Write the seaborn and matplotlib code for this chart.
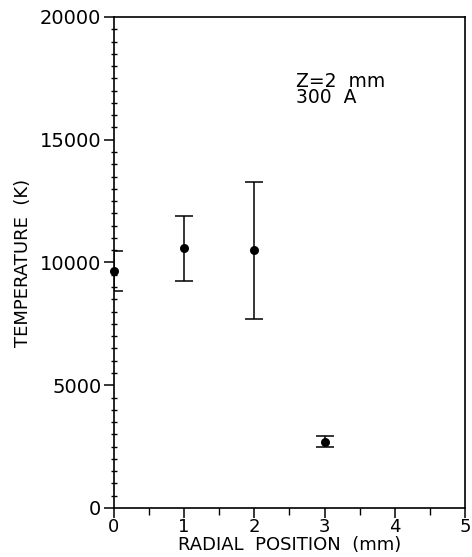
import matplotlib
matplotlib.use("Agg")
import matplotlib.pyplot as plt
from matplotlib.ticker import MultipleLocator
import seaborn as sns
import pandas as pd

# Measured temperatures along the radius
radial_mm = [0, 1, 2, 3]
temperature_k = [9650, 10570, 10490, 2700]
temperature_err = [800, 1340, 2800, 230]

x_ticks = [0, 1, 2, 3, 4, 5]
y_ticks = [0, 5000, 10000, 15000, 20000]

df = pd.DataFrame({"r": radial_mm, "T": temperature_k, "err": temperature_err})

sns.set_style("ticks")
plt.rcParams["font.family"] = ["DejaVu Sans"]
plt.rcParams["text.color"] = "black"
plt.rcParams["axes.labelcolor"] = "black"

fig = plt.figure(figsize=(4.72, 5.57), dpi=100)
ax = fig.add_axes([0.2415, 0.0880, 0.7435, 0.8815])

ax.errorbar(df["r"], df["T"], yerr=df["err"], fmt="none", ecolor="black",
            elinewidth=1.1, capsize=6.5, capthick=1.1, zorder=2)
sns.scatterplot(data=df, x="r", y="T", color="black", s=42, edgecolor="black",
                linewidth=0, ax=ax, zorder=3, clip_on=False)

ax.set_xlim(0, 5)
ax.set_ylim(0, 20000)
ax.set_xticks(x_ticks)
ax.set_yticks(y_ticks)
ax.xaxis.set_minor_locator(MultipleLocator(0.5))
ax.yaxis.set_minor_locator(MultipleLocator(500))

for side in ["left", "right", "top", "bottom"]:
    ax.spines[side].set_visible(True)
    ax.spines[side].set_linewidth(1.2)
    ax.spines[side].set_color("black")

ax.tick_params(axis="both", which="major", direction="out", length=7, width=1.1,
               labelsize=14, colors="black", top=False, right=False, pad=2)
ax.tick_params(axis="x", which="major", pad=0, labelsize=13)
ax.tick_params(axis="y", which="minor", direction="inout", length=5, width=1.0,
               right=False, colors="black")
ax.tick_params(axis="x", which="minor", direction="out", length=5, width=1.0,
               top=False, colors="black")

ax.set_xlabel("RADIAL  POSITION  (mm)", fontsize=13, labelpad=0, color="black")
ax.set_ylabel("TEMPERATURE  (K)", fontsize=13, labelpad=6, color="black")

ax.text(2.6, 17750, "Z=2  mm\n300  A", fontsize=13.5, va="top", ha="left",
        linespacing=0.8, color="black")

fig.savefig("out.png", dpi=100, facecolor="white")
